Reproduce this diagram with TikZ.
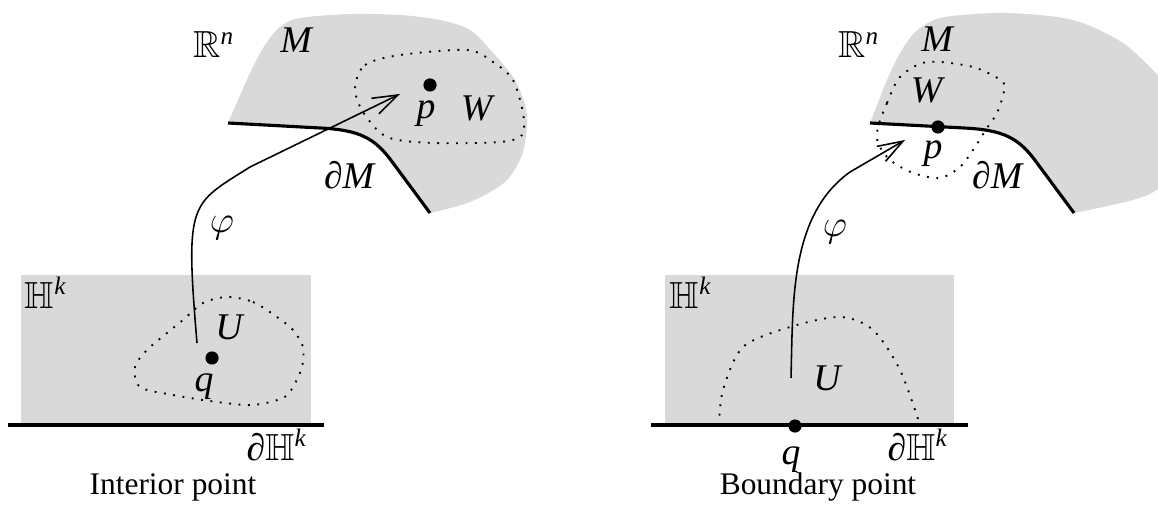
\documentclass[tikz,border=0pt]{standalone}
\usepackage{amsmath}
\usepackage{amssymb}
\usepackage{fontspec}
\setmainfont{Liberation Serif}
\usetikzlibrary{arrows.meta}

\begin{document}
\begin{tikzpicture}[
            x=0.01118cm, y=-0.01118cm,
            region/.style={fill=black!15},
            rand/.style={line width=1pt},
            nbhd/.style={line width=0.6pt, dash pattern=on 0.6pt off 2.4pt},
            map/.style={line width=0.5pt, -{Straight Barb[length=8pt,width=5.5pt]}},
            pt/.style={circle, fill=black, inner sep=0pt, minimum size=4.2pt},
            lab/.style={inner sep=1pt, font=\large},
            caption/.style={inner sep=1pt, font=\normalsize}
        ]
        \useasboundingbox (0,0) rectangle (1158,508);
        \clip (0,0) rectangle (1158,508);

        % Flaechen
        \fill[region] (21,275) rectangle (311,425);
        \fill[region] (665,275) rectangle (954,425);
        \fill[region] (228,123) -- (320,128) .. controls (360,130) and (375,138) .. (393,163) -- (430,213)
            -- plot[smooth] coordinates {(430,213) (470,202) (505,182) (522,155) (527,125) (525,105) (515,80) (495,55) (470,30) (440,20) (400,15) (350,14) (300,18) (280,27) (265,45) (250,73) (228,123)} -- cycle;
        \fill[region] (870,123) -- (964,128) .. controls (1004,130) and (1019,138) .. (1037,163) -- (1074,213)
            -- plot[smooth] coordinates {(1074,213) (1133,200) (1160,187) (1185,150) (1185,100) (1160,77) (1123,43) (1073,20) (1007,13) (945,17) (920,28) (905,45) (890,73) (870,123)} -- cycle;

        % Umgebungen
        \draw[nbhd] plot[smooth cycle] coordinates {(227,297) (253,302) (277,317) (293,330) (303,347) (302,367) (293,387) (283,398) (253,405) (217,402) (173,395) (140,387) (135,367) (147,350) (167,333) (183,320) (203,303)};
        \draw[nbhd] plot[smooth cycle] coordinates {(355,88) (365,65) (400,55) (467,50) (493,62) (513,80) (523,113) (522,135) (500,142) (433,143) (387,137) (363,112)};
        \draw[nbhd] plot[smooth] coordinates {(719,425) (723,390) (743,347) (790,327) (840,317) (873,330) (900,370) (920,425)};
        \draw[nbhd] plot[smooth cycle] coordinates {(878,127) (887,103) (900,77) (927,62) (973,67) (1003,82) (1003,95) (997,113) (987,128) (973,150) (960,167) (940,178) (913,173) (890,160) (878,143)};

        % Raender
        \draw[rand] (8,425) -- (324,425);
        \draw[rand] (651,425) -- (968,425);
        \draw[rand] (228,123) -- (320,128) .. controls (360,130) and (375,138) .. (393,163) -- (430,213);
        \draw[rand] (870,123) -- (964,128) .. controls (1004,130) and (1019,138) .. (1037,163) -- (1074,213);

        % Punkte
        \node[pt] (qL) at (212,358) {};
        \node[pt] (pL) at (430,85) {};
        \node[pt] (qR) at (795,426) {};
        \node[pt] (pR) at (938,127) {};

        % Abbildungen
        \coordinate (fromL) at (197,343);
        \coordinate (toL) at (400,94);
        \coordinate (fromR) at (791,378);
        \coordinate (toR) at (905,140);
        \draw[map] (fromL) .. controls (185,200) and (190,205) .. (250,167) -- (toL);
        \draw[map] (fromR) .. controls (793,300) and (790,215) .. (850,172) -- (toR);

        % Beschriftungen links
        \node[lab] (RnL) at (214,45) {$\mathbb{R}^{\textit{n}}$};
        \node[lab] (ML) at (297,40) {\textit{M}};
        \node[lab] (pLlab) at (426,114) {\textit{p}};
        \node[lab] (WL) at (478,108) {\textit{W}};
        \node[lab] (dML) at (350,175) {\textit{∂M}};
        \node[lab] (phiL) at (222,228) {$\varphi$};
        \node[lab] (HkL) at (46,293) {$\mathbb{H}^{\textit{k}}$};
        \node[lab] (UL) at (230,327) {\textit{U}};
        \node[lab] (qLlab) at (204,387) {\textit{q}};
        \node[lab] (dHkL) at (277,445) {\textit{∂}$\mathbb{H}^{\textit{k}}$};
        \node[caption] (capL) at (173,487) {Interior point};

        % Beschriftungen rechts
        \node[lab] (RnR) at (859,45) {$\mathbb{R}^{\textit{n}}$};
        \node[lab] (MR) at (938,39) {\textit{M}};
        \node[lab] (WR) at (928,90) {\textit{W}};
        \node[lab] (pRlab) at (933,154) {\textit{p}};
        \node[lab] (dMR) at (998,175) {\textit{∂M}};
        \node[lab] (phiR) at (835,232) {$\varphi$};
        \node[lab] (HkR) at (691,293) {$\mathbb{H}^{\textit{k}}$};
        \node[lab] (UR) at (828,378) {\textit{U}};
        \node[lab] (qRlab) at (791,460) {\textit{q}};
        \node[lab] (dHkR) at (918,445) {\textit{∂}$\mathbb{H}^{\textit{k}}$};
        \node[caption] (capR) at (818,487) {Boundary point};

    \end{tikzpicture}
\end{document}
